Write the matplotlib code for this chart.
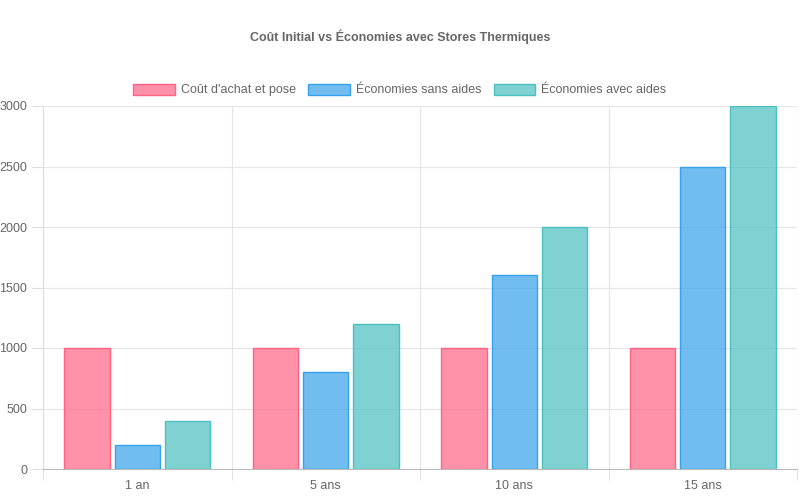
import matplotlib.pyplot as plt
import numpy as np
from matplotlib.patches import Patch

plt.rcParams['font.family'] = ['Liberation Sans', 'DejaVu Sans']

categories = ["1 an", "5 ans", "10 ans", "15 ans"]
series_names = ["Coût d'achat et pose", "Économies sans aides", "Économies avec aides"]
cout = [1000, 1000, 1000, 1000]
sans_aides = [200, 800, 1600, 2500]
avec_aides = [400, 1200, 2000, 3000]

fills = [(1, 99/255, 132/255, 0.7), (54/255, 162/255, 235/255, 0.7), (75/255, 192/255, 192/255, 0.7)]
edges = [(1, 99/255, 132/255), (54/255, 162/255, 235/255), (75/255, 192/255, 192/255)]

fig = plt.figure(figsize=(8, 5), dpi=100)
ax = fig.add_axes([43/800, 1 - 469/500, (797 - 43)/800, (469 - 106)/500])

x = np.arange(len(categories))
w = 0.8 / 3
for i, vals in enumerate([cout, sans_aides, avec_aides]):
    ax.bar(x + (i - 1) * w, vals, width=w * 0.9, color=fills[i],
           edgecolor=edges[i], linewidth=1, zorder=3)

ax.set_xlim(-0.5, len(categories) - 0.5)
ax.set_ylim(0, 3000)
ax.set_yticks(range(0, 3001, 500))
ax.set_xticks(x)
ax.set_xticklabels(categories)
ax.set_xticks(np.arange(-0.5, len(categories)), minor=True)
ax.tick_params(axis='x', which='major', length=0, pad=8, labelsize=9, labelcolor='#666666')
ax.tick_params(axis='x', which='minor', length=8, color='#dddddd')
ax.tick_params(axis='y', length=8, color='#dddddd', labelsize=9, labelcolor='#666666')
ax.grid(True, axis='y', color='#e5e5e5', linewidth=0.8, zorder=0)
ax.grid(True, axis='x', which='minor', color='#e5e5e5', linewidth=0.8, zorder=0)
for s in ax.spines.values():
    s.set_visible(False)
ax.spines['bottom'].set_visible(True)
ax.spines['bottom'].set_color('#bbbbbb')
ax.spines['left'].set_visible(True)
ax.spines['left'].set_color('#dddddd')

fig.text(0.5, 1 - 37/500, "Coût Initial vs Économies avec Stores Thermiques",
         ha='center', va='center', fontsize=9, fontweight='bold', color='#666666')

handles = [Patch(facecolor=fills[i], edgecolor=edges[i], label=series_names[i]) for i in range(3)]
fig.legend(handles=handles, loc='center', bbox_to_anchor=(0.5, 1 - 90/500), ncol=3,
           frameon=False, fontsize=9, labelcolor='#666666', handlelength=3.3,
           handleheight=1.0, columnspacing=1.0, handletextpad=0.5)

fig.savefig("out.png", dpi=100)
